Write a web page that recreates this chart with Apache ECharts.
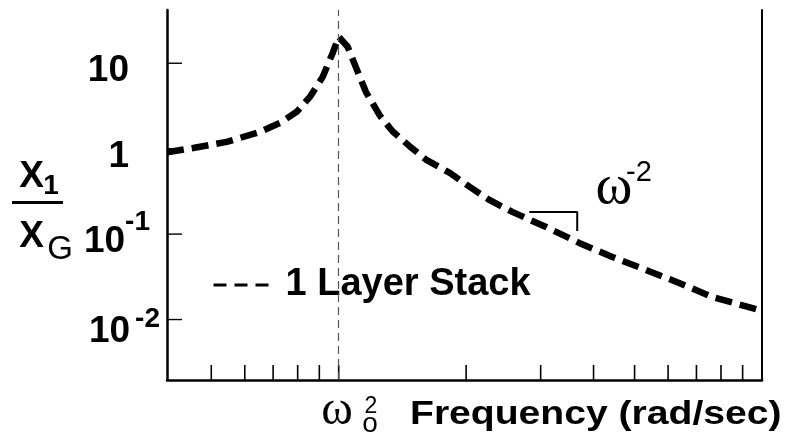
<!DOCTYPE html>
<html><head><meta charset="utf-8">
<script src="https://cdn.jsdelivr.net/npm/echarts@6/dist/echarts.min.js"></script>
<style>html,body{margin:0;padding:0;background:#fff}#c{width:796px;height:447px}</style>
</head><body><div id="c"></div>
<script>
// ---- data ----
const seriesName = '1 Layer Stack';
const frequency = [0.393, 0.453, 0.544, 0.651, 0.726, 0.796, 0.855, 0.917, 0.968, 1.0, 1.05, 1.10, 1.16, 1.25, 1.34, 1.47, 1.61, 1.83, 2.04, 2.27, 2.57, 3.09, 3.70, 4.43, 5.32, 6.37, 7.62, 10];
const amplitude = [0.91, 1.02, 1.20, 1.57, 2.0, 2.70, 4.04, 6.93, 13.2, 20.5, 15.6, 8.8, 4.6, 2.45, 1.6, 1.07, 0.74, 0.52, 0.357, 0.251, 0.182, 0.121, 0.0789, 0.054, 0.0381, 0.0268, 0.0184, 0.0127];
const resonanceFrequency = 1;
const xTickValues = [0.5, 0.6, 0.7, 0.8, 0.9, 1, 2, 3, 4, 5, 6, 7, 8, 9];
const yTickValues = [10, 1, 0.1, 0.01];
const yTickBase = ['10', '1', '10', '10'];
const yTickExponent = ['', '', '-1', '-2'];
const slopeMarkerX = [2.82, 3.66, 3.66];
const slopeMarkerY = [0.182, 0.182, 0.109];
const xRange = [0.393, 10];
const yRange = [0.00196, 42];

const SANS = '"Liberation Sans", Arial, sans-serif';
const SERIF = '"Liberation Serif", "Times New Roman", serif';

const chart = echarts.init(document.getElementById('c'), null, {renderer: 'canvas'});

function yLabel(v) {
  const i = yTickValues.findIndex(t => Math.abs(Math.log10(v) - Math.log10(t)) < 1e-6);
  if (i < 0) return '';
  const b = yTickBase[i], e = yTickExponent[i];
  if (!e) return '{b|' + b + '}{p| }';
  if (i === 2) return '{b|' + b + '}{s1|' + e + '}{p1| }';
  return '{b|' + b + '}{g| }{s2|' + e + '}';
}

const option = {
  animation: false,
  backgroundColor: '#fff',
  grid: {left: 167, right: 34, top: 10, bottom: 67, containLabel: false},
  legend: {
    data: [seriesName], left: 212, top: 265, padding: 0, selectedMode: false,
    itemWidth: 56, itemHeight: 20,
    itemStyle: {opacity: 0},
    lineStyle: {width: 3, type: [13, 8], color: '#000', cap: 'butt'},
    textStyle: {fontSize: 38, fontWeight: 'bold', fontFamily: SANS, color: '#000', lineHeight: 40, padding: [0, 0, 0, 11]}
  },
  xAxis: {
    type: 'log', min: xRange[0], max: xRange[1],
    axisLine: {show: true, lineStyle: {color: '#000', width: 2.5}},
    axisTick: {show: false}, axisLabel: {show: false}, splitLine: {show: false}, minorTick: {show: false}
  },
  yAxis: [{
    type: 'log', min: yRange[0], max: yRange[1],
    axisLine: {show: true, lineStyle: {color: '#000', width: 2.5}},
    axisTick: {show: false}, splitLine: {show: false},
    axisLabel: {
      show: true, margin: 7, color: '#000', fontFamily: SANS, fontSize: 36, fontWeight: 'bold',
      showMinLabel: false, showMaxLabel: false,
      formatter: yLabel,
      rich: {
        b: {fontSize: 37, fontWeight: 'bold', fontFamily: SANS, lineHeight: 40, verticalAlign: 'bottom'},
        p: {width: 31, fontSize: 10, lineHeight: 53},
        s1: {fontSize: 28, fontWeight: 'bold', fontFamily: SANS, lineHeight: 28, padding: [0, 0, 24.5, 0], verticalAlign: 'bottom'},
        p1: {width: 10, fontSize: 10, lineHeight: 52.5},
        g: {width: 5, fontSize: 10, lineHeight: 62},
        s2: {fontSize: 28, fontWeight: 'bold', fontFamily: SANS, lineHeight: 28, padding: [0, 0, 17, 0], verticalAlign: 'bottom'}
      }
    }
  }, {
    type: 'value', position: 'right', min: 0, max: 1,
    axisLine: {show: true, onZero: false, lineStyle: {color: '#000', width: 2}},
    axisTick: {show: false}, axisLabel: {show: false}, splitLine: {show: false}
  }],
  series: [{
    name: seriesName, type: 'line', symbol: 'none', showSymbol: false, z: 4,
    data: frequency.map((f, i) => [f, amplitude[i]]),
    lineStyle: {color: '#000', width: 6.5, type: [17, 8], cap: 'butt'},
    markLine: {
      silent: true, symbol: ['none', 'none'], label: {show: false},
      lineStyle: {color: '#555', width: 1.2, type: [8, 5]},
      data: [{xAxis: resonanceFrequency}]
    }
  }, {
    name: 'slope', type: 'line', symbol: 'none', z: 3,
    data: slopeMarkerX.map((x, i) => [x, slopeMarkerY[i]]),
    lineStyle: {color: '#000', width: 2, type: 'solid'}
  }, {
    name: 'xticks', type: 'custom', coordinateSystem: 'cartesian2d', z: 2,
    data: xTickValues.map(v => [v, yRange[0]]),
    renderItem: function (params, api) {
      const p = api.coord([api.value(0), yRange[0]]);
      return {type: 'line', shape: {x1: p[0], y1: p[1], x2: p[0], y2: p[1] - 15}, style: {stroke: '#000', lineWidth: 1.6}};
    }
  }, {
    name: 'yticks', type: 'custom', coordinateSystem: 'cartesian2d', z: 2,
    data: yTickValues.map(v => [xRange[0], v]),
    renderItem: function (params, api) {
      const p = api.coord([xRange[0], api.value(1)]);
      return {type: 'line', shape: {x1: p[0], y1: p[1], x2: p[0] + 15, y2: p[1]}, style: {stroke: '#000', lineWidth: 1.4}};
    }
  }],
  graphic: [
    {type: 'text', x: 31.5, y: 176.5, style: {text: 'X', font: 'bold 37px ' + SANS, fill: '#000', align: 'center', verticalAlign: 'middle'}},
    {type: 'text', x: 51, y: 186, style: {text: '1', font: 'bold 28px ' + SANS, fill: '#000', align: 'center', verticalAlign: 'middle'}},
    {type: 'rect', shape: {x: 12, y: 201, width: 51, height: 3}, style: {fill: '#000'}},
    {type: 'text', x: 31.5, y: 236.5, style: {text: 'X', font: 'bold 37px ' + SANS, fill: '#000', align: 'center', verticalAlign: 'middle'}},
    {type: 'text', x: 60, y: 249.5, style: {text: 'G', font: '33px ' + SANS, fill: '#000', align: 'center', verticalAlign: 'middle'}},

    {type: 'text', x: 614, y: 188, style: {text: 'ω', font: '56px ' + SERIF, fill: '#000', align: 'center', verticalAlign: 'middle'}},
    {type: 'text', x: 639, y: 172.5, style: {text: '-2', font: '29px ' + SANS, fill: '#000', align: 'center', verticalAlign: 'middle'}},

    {type: 'text', x: 337, y: 411, style: {text: 'ω', font: '48px ' + SERIF, fill: '#000', align: 'center', verticalAlign: 'middle'}},
    {type: 'text', x: 371, y: 407, style: {text: '2', font: '23px ' + SANS, fill: '#000', align: 'center', verticalAlign: 'middle'}},
    {type: 'text', x: 370, y: 424, style: {text: 'o', font: '28px ' + SANS, fill: '#000', align: 'center', verticalAlign: 'middle'}},
    {type: 'text', x: 410, y: 415, scaleX: 1.15, style: {text: 'Frequency (rad/sec)', font: 'bold 34px ' + SANS, fill: '#000', align: 'left', verticalAlign: 'middle'}}
  ]
};
chart.setOption(option);
</script>
</body></html>
